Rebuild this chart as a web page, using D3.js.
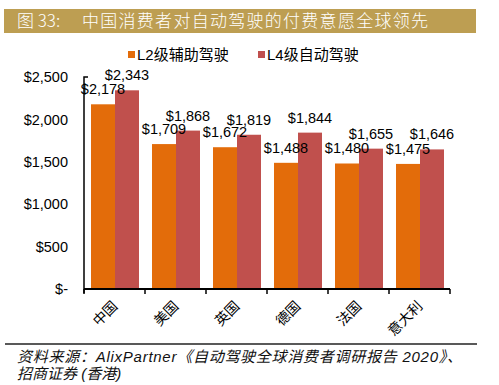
<!DOCTYPE html>
<html>
<head>
<meta charset="utf-8">
<script src="https://cdn.jsdelivr.net/npm/d3@7"></script>
<style>
  body { margin: 0; background: #fff; }
  svg { display: block; }
</style>
</head>
<body>
<svg id="chart" width="499" height="385"></svg>
<script>
const categories = ['中国', '美国', '英国', '德国', '法国', '意大利']
const seriesNames = ['L2级辅助驾驶', 'L4级自动驾驶']
const l2Values = [2178, 1709, 1672, 1488, 1480, 1475]
const l4Values = [2343, 1868, 1819, 1844, 1655, 1646]
const yTicks = [0, 500, 1000, 1500, 2000, 2500]
const colors = ['#e36c0a', '#c0504d']

const svg = d3.select('#chart')
const font = 'Liberation Sans, Arial, Noto Sans CJK SC, sans-serif'

// title bar
svg.append('rect').attr('x', 4).attr('y', 9).attr('width', 472).attr('height', 24).attr('fill', '#bd9e52')
const title = svg.append('g').attr('fill', '#fff').attr('font-size', 17)
  .attr('font-family', 'Noto Sans CJK SC, sans-serif').attr('font-weight', 300)
title.append('text').attr('x', 17).attr('y', 27).text('图 33:')
title.append('text').attr('x', 82).attr('y', 27)
  .attr('textLength', 346).attr('lengthAdjust', 'spacing')
  .text('中国消费者对自动驾驶的付费意愿全球领先')

const x = d3.scaleBand().domain(categories).range([84, 450]).paddingInner(0).paddingOuter(0)
const y = d3.scaleLinear().domain([0, 2500]).range([289, 77])
const inner = d3.scaleBand().domain([0, 1]).range([7, x.bandwidth() - 6])

// y axis
const yAxis = svg.append('g').attr('transform', 'translate(84,0)')
  .call(d3.axisLeft(y).tickValues(yTicks).tickSize(0).tickPadding(16)
    .tickFormat(d => d === 0 ? '$-' : '$' + d3.format(',')(d)))
yAxis.select('.domain').attr('stroke', '#000').attr('stroke-width', 1.5).attr('d', 'M4,77H0V293')
yAxis.selectAll('text').attr('font-size', 14.5).attr('font-family', font).attr('fill', '#000')

// bars
const groups = svg.append('g').selectAll('g').data(categories).join('g')
  .attr('transform', d => `translate(${x(d)},0)`)
groups.each(function (c, i) {
  const vals = [l2Values[i], l4Values[i]]
  const g = d3.select(this)
  g.selectAll('rect').data(vals).join('rect')
    .attr('x', (d, j) => inner(j)).attr('width', inner.bandwidth())
    .attr('y', d => y(d)).attr('height', d => y(0) - y(d))
    .attr('fill', (d, j) => colors[j])
  g.selectAll('text').data(vals).join('text')
    .attr('x', (d, j) => inner(j) + inner.bandwidth() / 2)
    .attr('y', d => y(d) - 10)
    .attr('text-anchor', 'middle').attr('font-size', 14.5).attr('font-family', font)
    .text(d => '$' + d3.format(',')(d))
})

// x axis
const xAxis = svg.append('g').attr('transform', `translate(0,${y(0)})`)
  .call(d3.axisBottom(x).tickSize(0).tickFormat(''))
xAxis.select('.domain').attr('stroke', '#000').attr('stroke-width', 1.8)
  .attr('d', 'M84,0H450')
svg.append('g').selectAll('line').data(d3.range(categories.length + 1)).join('line')
  .attr('x1', i => 84 + i * x.bandwidth()).attr('x2', i => 84 + i * x.bandwidth())
  .attr('y1', y(0)).attr('y2', y(0) + 5).attr('stroke', '#000').attr('stroke-width', 1.5)
svg.append('g').selectAll('text').data(categories).join('text')
  .attr('transform', d => `translate(${x(d) + x.bandwidth() / 2 + 4},${y(0) + 18}) rotate(-45)`)
  .attr('text-anchor', 'end').attr('font-size', 14).attr('font-family', 'Noto Sans CJK SC, sans-serif')
  .text(d => d)

// legend
const legend = svg.append('g').selectAll('g').data(seriesNames).join('g')
  .attr('transform', (d, i) => `translate(${[128, 258][i]},51)`)
legend.append('rect').attr('width', 7).attr('height', 7).attr('fill', (d, i) => colors[i])
legend.append('text').attr('x', 9).attr('y', 9).attr('font-size', 15)
  .attr('font-family', 'Liberation Sans, Noto Sans CJK SC, sans-serif').text(d => d)

// source
svg.append('line').attr('x1', 5).attr('x2', 477).attr('y1', 344).attr('y2', 344)
  .attr('stroke', '#222').attr('stroke-width', 1.5)
const src = svg.append('g').attr('font-size', 15).attr('font-style', 'italic')
  .attr('font-family', 'Liberation Sans, Noto Sans CJK SC, sans-serif').attr('fill', '#111')
src.append('text').attr('x', 17).attr('y', 362)
  .attr('textLength', 445).attr('lengthAdjust', 'spacing')
  .text('资料来源：AlixPartner《自动驾驶全球消费者调研报告 2020》、')
src.append('text').attr('x', 17).attr('y', 379).text('招商证券 (香港)')
</script>
</body>
</html>
